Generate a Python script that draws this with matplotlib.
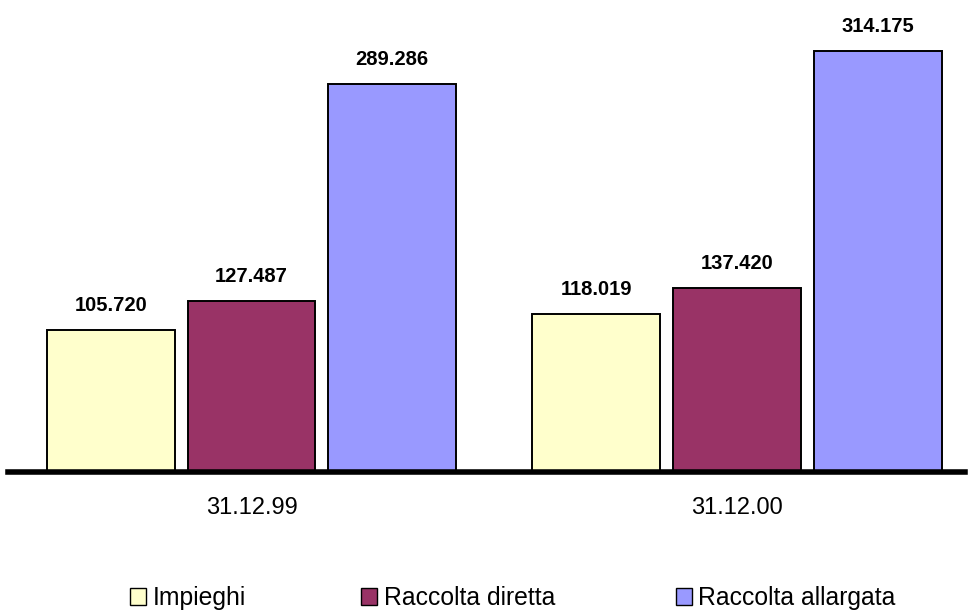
import numpy as np
import matplotlib.pyplot as plt
from matplotlib.patches import Patch

plt.rcParams['font.family'] = ['Liberation Sans', 'DejaVu Sans']

# Data
dates = ['31.12.99', '31.12.00']
series = ['Impieghi', 'Raccolta diretta', 'Raccolta allargata']
impieghi = [105.720, 118.019]
raccolta_diretta = [127.487, 137.420]
raccolta_allargata = [289.286, 314.175]
colors = ['#FFFFCC', '#993366', '#9999FF']

values = [impieghi, raccolta_diretta, raccolta_allargata]

fig = plt.figure(figsize=(9.69, 6.15), dpi=100)
ax = fig.add_axes([8 / 969, (615 - 472) / 615, 957 / 969, 472 / 615])

x = np.arange(len(dates))
step = 0.29
width = 0.263
for i, (name, vals) in enumerate(zip(series, values)):
    pos = x + (i - 1) * step
    ax.bar(pos, vals, width, color=colors[i], edgecolor='black', linewidth=1.4, zorder=2)
    for p, v in zip(pos, vals):
        ax.text(p, v + 11, f'{v:.3f}', ha='center', va='bottom',
                fontsize=14.5, fontweight='bold')

ax.set_xlim(-0.5015, 1.4696)
ax.set_ylim(0, 352)
ax.axhline(0, color='black', linewidth=4, zorder=3, clip_on=False)
for s in ax.spines.values():
    s.set_visible(False)
ax.set_yticks([])
ax.set_xticks(x)
ax.set_xticklabels(dates, fontsize=17)
ax.tick_params(axis='x', length=0, pad=18)

# Legend entries
legend_x = [130, 361, 676]
for name, col, lx in zip(series, colors, legend_x):
    fig.legend(handles=[Patch(facecolor=col, edgecolor='black', linewidth=1)],
               labels=[name], loc='center left',
               bbox_to_anchor=((lx - 22) / 969, 1 - 598 / 615),
               frameon=False, fontsize=17.8, handlelength=0.65, handleheight=0.65,
               handletextpad=0.25)

fig.savefig('out.png', dpi=100)
